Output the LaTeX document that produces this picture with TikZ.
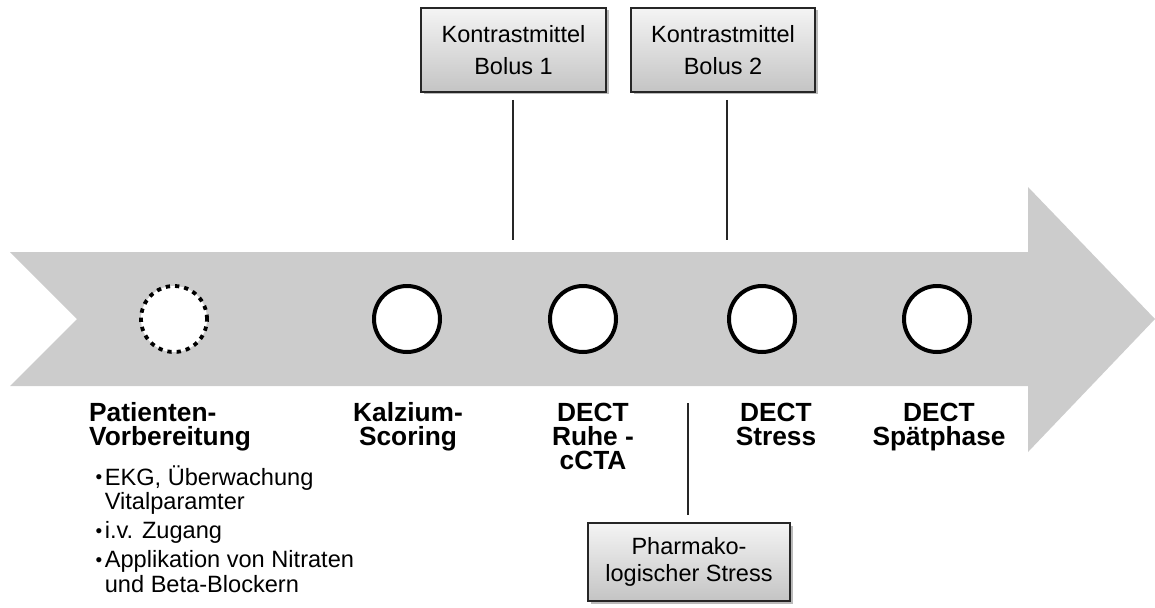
\documentclass[tikz,border=0pt]{standalone}
\usepackage{fontspec}
\setmainfont{Liberation Sans}
\usetikzlibrary{shadows}
\definecolor{arrowgray}{RGB}{204,204,204}
\definecolor{boxtop}{RGB}{244,244,244}
\definecolor{boxbot}{RGB}{196,196,196}
\newcommand{\bulletmark}{\raisebox{1.2pt}{\fontsize{19}{19}\selectfont •}}
\begin{document}
\begin{tikzpicture}[x=1pt,y=-1pt,
  stepcircle/.style={circle, draw=black, line width=4pt, fill=white, minimum size=66pt, inner sep=0pt},
  plancircle/.style={stepcircle, line width=3.8pt, dash pattern=on 4.3pt off 5pt},
  steplabel/.style={anchor=north, inner sep=0pt, align=center, font=\fontsize{26.3}{24}\selectfont\bfseries},
  infobox/.style={draw=black!85, line width=1.2pt, top color=boxtop, bottom color=boxbot,
     align=center, inner sep=0pt, drop shadow={shadow xshift=2.5pt, shadow yshift=-2.5pt, fill=black!60, opacity=0.45}},
  tick/.style={draw=black!85, line width=1.5pt}
]
\useasboundingbox (0,0) rectangle (1155,607);
% big arrow
\fill[arrowgray] (10,252) -- (1028,252) -- (1028,187) -- (1155,319) -- (1028,452) -- (1028,386) -- (10,386) -- (77,319) -- cycle;

% circles
\node[plancircle] (c0) at (174,319) {};
\node[stepcircle] (c1) at (407,319) {};
\node[stepcircle] (c2) at (583,319) {};
\node[stepcircle] (c3) at (762,319) {};
\node[stepcircle] (c4) at (937,319) {};

% labels
\node[steplabel, anchor=north west, align=left] (l0) at (89,402.5) {Patienten-\\Vorbereitung};
\node[steplabel] (l1) at (408,402.5) {Kalzium-\\Scoring};
\node[steplabel] (l2) at (593,402.5) {DECT\\Ruhe -\\cCTA};
\node[steplabel] (l3) at (776,402.5) {DECT\\Stress};
\node[steplabel] (l4) at (939,402.5) {DECT\\Spätphase};

% bullet list
\node[anchor=base west, inner sep=0pt, font=\fontsize{23.6}{24}\selectfont] (bl) at (95.5,485) {%
  \begin{tabular}[t]{@{}l@{\hspace{2.5pt}}l@{}}
  \bulletmark & EKG, Überwachung\\
   & Vitalparamter\\[5pt]
  \bulletmark & i.v. Zugang\\[5pt]
  \bulletmark & Applikation von Nitraten\\
   & und Beta-Blockern
  \end{tabular}};

% boxes
\node[infobox, minimum width=185pt, minimum height=84pt, font=\fontsize{23.5}{32}\selectfont] (b1) at (513.5,50) {Kontrastmittel\\Bolus 1};
\node[infobox, minimum width=184pt, minimum height=84pt, font=\fontsize{23.5}{32}\selectfont] (b2) at (723,50) {Kontrastmittel\\Bolus 2};
\node[infobox, minimum width=202pt, minimum height=78pt, font=\fontsize{23.5}{27}\selectfont] (b3) at (689,562) {Pharmako-\\logischer Stress};

% connectors
\coordinate (t1a) at (513,100);
\coordinate (t1b) at (513,240);
\coordinate (t2a) at (727,100);
\coordinate (t2b) at (727,240);
\coordinate (t3a) at (688,403);
\coordinate (t3b) at (688,515);
\draw[tick] (t1a) -- (t1b);
\draw[tick] (t2a) -- (t2b);
\draw[tick] (t3a) -- (t3b);
\end{tikzpicture}
\end{document}
